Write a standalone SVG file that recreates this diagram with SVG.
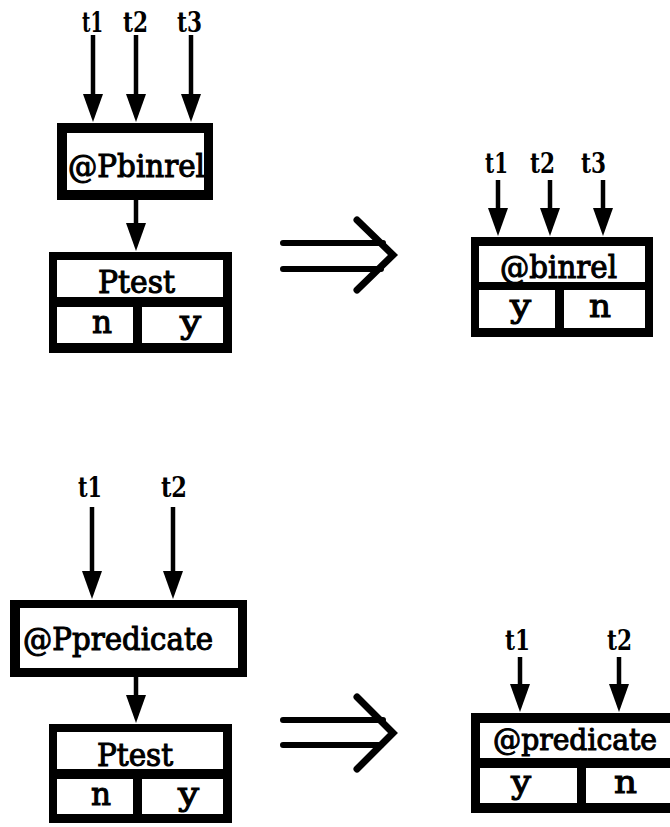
<svg xmlns="http://www.w3.org/2000/svg" width="670" height="827" viewBox="0 0 670 827">
  <style>
    .lbl { font-family: "DejaVu Serif", "Liberation Serif", serif; font-size: 27px; font-weight: bold; fill: #000; }
    .txt { font-family: "DejaVu Serif", "Liberation Serif", serif; font-size: 32px; fill: #000; stroke: #000; stroke-width: 1.1; }
    .frame { fill: #000; }
    .cell { fill: #fff; }
    .edge { stroke: #000; stroke-width: 4.5; fill: none; marker-end: url(#head); }
    .implies { stroke: #000; fill: none; }
  </style>
  <defs>
    <marker id="head" markerUnits="userSpaceOnUse" viewBox="0 0 28 20" markerWidth="28" markerHeight="20" refX="1" refY="10" orient="auto">
      <path d="M0,0 L28,10 L0,20 Z" fill="#000"/>
    </marker>
  </defs>
  <rect width="670" height="827" fill="#fff"/>

  <!-- upper rule: @Pbinrel feeding Ptest -->
  <g id="pbinrel">
    <rect class="frame" x="57" y="123" width="156" height="77"/>
    <rect class="cell" x="67" y="133" width="137" height="57"/>
    <text class="txt" x="68" y="177" textLength="137" lengthAdjust="spacingAndGlyphs">@Pbinrel</text>
  </g>
  <g id="ptest-top">
    <rect class="frame" x="49" y="252" width="183" height="101"/>
    <rect class="cell" x="57" y="260" width="166" height="37"/>
    <rect class="cell" x="57" y="307" width="76" height="36"/>
    <rect class="cell" x="142" y="307" width="81" height="36"/>
    <text class="txt" x="98" y="293" textLength="77" lengthAdjust="spacingAndGlyphs">Ptest</text>
    <text class="txt" x="92" y="333" textLength="20" lengthAdjust="spacingAndGlyphs">n</text>
    <text class="txt" x="180" y="333" textLength="21" lengthAdjust="spacingAndGlyphs">y</text>
  </g>
  <g id="args-top-left">
    <text class="lbl" x="82" y="32" textLength="21" lengthAdjust="spacingAndGlyphs">t1</text>
    <text class="lbl" x="123" y="32" textLength="25" lengthAdjust="spacingAndGlyphs">t2</text>
    <text class="lbl" x="177" y="32" textLength="25" lengthAdjust="spacingAndGlyphs">t3</text>
  </g>

  <!-- upper result: @binrel -->
  <g id="binrel">
    <rect class="frame" x="471" y="237" width="182" height="100"/>
    <rect class="cell" x="479" y="246" width="166" height="36"/>
    <rect class="cell" x="479" y="290" width="76" height="38"/>
    <rect class="cell" x="564" y="290" width="81" height="38"/>
    <text class="txt" x="500" y="278" textLength="117" lengthAdjust="spacingAndGlyphs">@binrel</text>
    <text class="txt" x="510" y="317" textLength="21" lengthAdjust="spacingAndGlyphs">y</text>
    <text class="txt" x="589" y="317" textLength="22" lengthAdjust="spacingAndGlyphs">n</text>
  </g>
  <g id="args-top-right">
    <text class="lbl" x="485" y="173" textLength="23" lengthAdjust="spacingAndGlyphs">t1</text>
    <text class="lbl" x="530" y="173" textLength="25" lengthAdjust="spacingAndGlyphs">t2</text>
    <text class="lbl" x="581" y="173" textLength="25" lengthAdjust="spacingAndGlyphs">t3</text>
  </g>

  <!-- lower rule: @Ppredicate feeding Ptest -->
  <g id="ppredicate">
    <rect class="frame" x="10" y="600" width="237" height="77"/>
    <rect class="cell" x="20" y="608" width="218" height="60"/>
    <text class="txt" x="23" y="650" textLength="190" lengthAdjust="spacingAndGlyphs">@Ppredicate</text>
  </g>
  <g id="ptest-bottom">
    <rect class="frame" x="49" y="724" width="183" height="99"/>
    <rect class="cell" x="57" y="732" width="166" height="37"/>
    <rect class="cell" x="57" y="779" width="76" height="35"/>
    <rect class="cell" x="142" y="779" width="81" height="35"/>
    <text class="txt" x="97" y="766" textLength="76" lengthAdjust="spacingAndGlyphs">Ptest</text>
    <text class="txt" x="91" y="805" textLength="20" lengthAdjust="spacingAndGlyphs">n</text>
    <text class="txt" x="178" y="805" textLength="21" lengthAdjust="spacingAndGlyphs">y</text>
  </g>
  <g id="args-bottom-left">
    <text class="lbl" x="78" y="497" textLength="24" lengthAdjust="spacingAndGlyphs">t1</text>
    <text class="lbl" x="161" y="497" textLength="26" lengthAdjust="spacingAndGlyphs">t2</text>
  </g>

  <!-- lower result: @predicate (open towards the right edge) -->
  <g id="predicate">
    <rect class="frame" x="471" y="713" width="199" height="100"/>
    <rect class="cell" x="480" y="723" width="190" height="35"/>
    <rect class="cell" x="480" y="768" width="97" height="35"/>
    <rect class="cell" x="586" y="768" width="84" height="35"/>
    <text class="txt" x="493" y="750" style="font-size:30px" textLength="164" lengthAdjust="spacingAndGlyphs">@predicate</text>
    <text class="txt" x="511" y="793" textLength="20" lengthAdjust="spacingAndGlyphs">y</text>
    <text class="txt" x="614" y="793" textLength="23" lengthAdjust="spacingAndGlyphs">n</text>
  </g>
  <g id="args-bottom-right">
    <text class="lbl" x="505" y="650" textLength="25" lengthAdjust="spacingAndGlyphs">t1</text>
    <text class="lbl" x="607" y="650" textLength="25" lengthAdjust="spacingAndGlyphs">t2</text>
  </g>

  <!-- connectors -->
  <g id="connectors">
    <path class="edge" d="M93,35 V95"/>
    <path class="edge" d="M136,35 V95"/>
    <path class="edge" d="M191,35 V95"/>
    <path class="edge" d="M136,200 V224"/>
    <path class="edge" d="M498,180 V209"/>
    <path class="edge" d="M550,180 V209"/>
    <path class="edge" d="M603,180 V209"/>
    <path class="edge" d="M92,507 V572"/>
    <path class="edge" d="M173,507 V572"/>
    <path class="edge" d="M136,677 V696"/>
    <path class="edge" d="M520,657 V685"/>
    <path class="edge" d="M619,657 V685"/>
  </g>

  <!-- rewrite arrows -->
  <g id="rewrite-top" class="implies">
    <path d="M283,243 H383 M283,269 H381" stroke-width="6" stroke-linecap="round"/>
    <path d="M357,220 L393,255 L357,290" stroke-width="7" stroke-linecap="round" stroke-linejoin="miter"/>
  </g>
  <g id="rewrite-bottom" class="implies">
    <path d="M283,720 H383 M283,745 H381" stroke-width="6" stroke-linecap="round"/>
    <path d="M357,697 L393,733 L357,769" stroke-width="7" stroke-linecap="round" stroke-linejoin="miter"/>
  </g>
</svg>
